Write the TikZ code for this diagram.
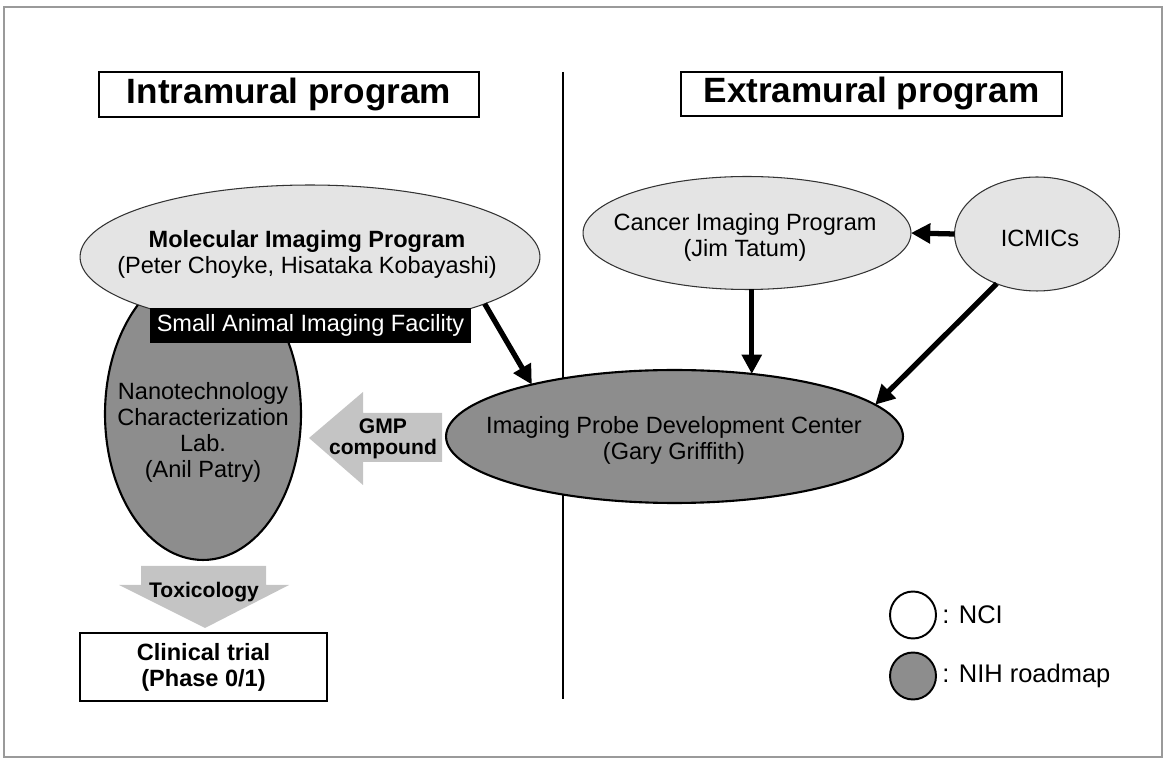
\documentclass[tikz,border=0pt]{standalone}
\usepackage{fontspec}
\setmainfont{Liberation Sans}
\usetikzlibrary{shapes.geometric,arrows.meta,calc}
\definecolor{lightfill}{HTML}{E4E4E4}
\definecolor{darkfill}{HTML}{8D8D8D}
\definecolor{arrowfill}{HTML}{C4C4C4}
\definecolor{framegray}{HTML}{9A9A9A}
\begin{document}
\begin{tikzpicture}[x=0.02cm,y=-0.02cm,
  lightell/.style={ellipse,draw=black!80,line width=0.6pt,fill=lightfill,inner sep=0pt,outer sep=0pt},
  darkell/.style={ellipse,draw=black,line width=1.2pt,fill=darkfill,inner sep=0pt,outer sep=0pt},
  titlebox/.style={draw=black,line width=1.4pt,fill=white,inner sep=0pt,font=\bfseries\fontsize{20}{22}\selectfont},
  bodytext/.style={align=center,inner sep=0pt,font=\fontsize{13.4}{14.8}\selectfont},
  boldtext/.style={align=center,inner sep=0pt,font=\bfseries\fontsize{13.4}{14.8}\selectfont},
  arrowtext/.style={align=center,inner sep=0pt,font=\bfseries\fontsize{12}{11.6}\selectfont},
  legtext/.style={anchor=west,inner sep=0pt,font=\fontsize{14.5}{16}\selectfont},
  conn/.style={line width=3pt,-{Triangle[length=11pt,width=11pt]}},
  bigarrow/.style={fill=arrowfill,draw=none}]
\useasboundingbox (0,0) rectangle (1166,759);
% frame
\draw[framegray,line width=0.6pt] (4,7) rectangle (1162,757);
% divider
\coordinate (divtop) at (563,72);
\coordinate (divbot) at (563,699);
\draw[line width=1.2pt] (divtop) -- (divbot);
% titles
\node[titlebox,minimum width=7.6cm,minimum height=0.9cm] (intra) at (289,94.5) {Intramural program};
\node[titlebox,minimum width=7.62cm,minimum height=0.88cm] (extra) at (871.5,94) {Extramural program};
% nanotechnology ellipse (behind)
\node[darkell,minimum width=3.92cm,minimum height=5.84cm] (nano) at (203,414) {};
% molecular imaging ellipse
\node[lightell,minimum width=9.2cm,minimum height=2.88cm] (mip) at (310,257) {};
\node[bodytext] (miptext) at (307,254) {\textbf{Molecular Imagimg Program}\\(Peter Choyke, Hisataka Kobayashi)};
% small animal imaging facility
\node[fill=black,text=white,inner sep=0pt,minimum width=6.42cm,minimum height=0.7cm,font=\fontsize{13.4}{14.8}\selectfont] (saif) at (310.5,325.5) {Small Animal Imaging Facility};
\node[bodytext] (nanotext) at (203,432) {Nanotechnology\\Characterization\\Lab.\\(Anil Patry)};
% GMP compound arrow
\path[bigarrow] (442,413) -- (363,413) -- (363,392) -- (309,438) -- (363,485) -- (363,462) -- (442,462) -- cycle;
\node[arrowtext] (gmp) at (383,439) {GMP\\compound};
% IPDC ellipse
\node[darkell,minimum width=9.14cm,minimum height=2.66cm] (ipdc) at (674.5,436.5) {};
\node[bodytext] (ipdctext) at (674,440) {Imaging Probe Development Center\\(Gary Griffith)};
% Toxicology arrow
\path[bigarrow] (141,566) -- (266,566) -- (266,585) -- (289,585) -- (205,628) -- (119,585) -- (141,585) -- cycle;
\node[arrowtext] (tox) at (204,592) {Toxicology};
% Clinical trial
\node[draw=black,line width=1.2pt,fill=white,minimum width=4.94cm,minimum height=1.36cm,boldtext] (clin) at (203.5,667) {Clinical trial\\(Phase 0/1)};
% extramural ellipses
\node[lightell,minimum width=6.56cm,minimum height=2.26cm] (cip) at (747,233) {};
\node[bodytext] (ciptext) at (745,237) {Cancer Imaging Program\\(Jim Tatum)};
\node[lightell,minimum width=3.3cm,minimum height=2.28cm] (icm) at (1037,234) {};
\node[bodytext] (icmtext) at (1040,238) {ICMICs};
% connectors
\draw[conn] (mip.-15.5) -- (ipdc.160);
\draw[conn] (icm.west) -- (cip.east);
\draw[conn] (cip.south -| ipdc.39) -- (ipdc.39);
\draw[conn] (icm.231) -- (ipdc.9);
% legend
\node[ellipse,draw=black,line width=1.1pt,fill=white,inner sep=0pt,minimum width=0.92cm,minimum height=0.94cm] (legnci) at (913,615) {};
\node[legtext] (legncitext) at (942,615) {: NCI};
\node[ellipse,draw=black,line width=1.1pt,fill=darkfill,inner sep=0pt,minimum width=0.92cm,minimum height=0.94cm] (legnih) at (913,676) {};
\node[legtext] (legnihtext) at (942,676) {: NIH roadmap};
\end{tikzpicture}
\end{document}
